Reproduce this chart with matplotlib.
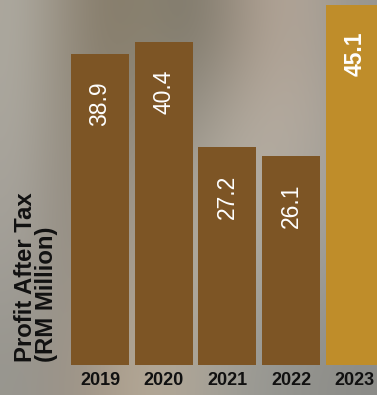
import numpy as np
import matplotlib
matplotlib.use("Agg")
import matplotlib.pyplot as plt

# Profit after tax by financial year
years = ["2019", "2020", "2021", "2022", "2023"]
profit = [38.9, 40.4, 27.2, 26.1, 45.1]
bar_colors = ["#7D5525", "#7D5525", "#7D5525", "#7D5525", "#BF8D2A"]
label_bold = [False, False, False, False, True]

plt.rcParams["font.family"] = ["Liberation Sans", "DejaVu Sans"]

fig = plt.figure(figsize=(3.77, 3.95), dpi=100)

# soft photographic backdrop
bg = fig.add_axes([0, 0, 1, 1], zorder=0)
bg_rgb = np.array([
    [[172, 168, 158], [152, 144, 130], [134, 124, 106], [138, 130, 112], [128, 122, 108], [150, 140, 126], [176, 162, 148], [172, 162, 150], [152, 150, 144]],
    [[170, 166, 157], [152, 145, 132], [140, 132, 118], [150, 142, 128], [150, 145, 135], [172, 164, 152], [182, 172, 160], [175, 166, 155], [158, 155, 148]],
    [[166, 162, 154], [150, 143, 132], [150, 142, 130], [160, 152, 140], [170, 164, 152], [180, 174, 162], [176, 170, 160], [168, 164, 156], [156, 154, 148]],
    [[160, 157, 150], [150, 144, 134], [160, 150, 136], [170, 160, 146], [175, 168, 155], [172, 168, 158], [162, 160, 152], [158, 156, 150], [150, 150, 145]],
    [[152, 150, 143], [155, 147, 136], [168, 156, 140], [180, 168, 150], [172, 164, 150], [160, 158, 150], [150, 150, 145], [145, 145, 140], [140, 140, 136]],
], dtype=float) / 255.0
bg.imshow(bg_rgb, aspect="auto", interpolation="bicubic", extent=[0, 1, 0, 1])
bg.set_xlim(0, 1)
bg.set_ylim(0, 1)
bg.axis("off")

ax = fig.add_axes([0, 0, 1, 1], zorder=1)
ax.patch.set_alpha(0)
ax.axis("off")
x = np.arange(len(years))
ax.set_xlim(-1.57, 4.348)
ax.set_ylim(-3.82, 45.68)

ax.bar(x, profit, width=0.91, color=bar_colors)

for xi, v, bold in zip(x, profit, label_bold):
    ax.text(xi, v - 3.4, f"{v:.1f}", rotation=90, ha="center", va="top",
            color="white", fontsize=16.5,
            fontweight="bold" if bold else "normal")

for xi, yr in zip(x, years):
    ax.text(xi, -2.05, yr, ha="center", va="center", fontsize=13,
            fontweight="bold", color="#111111")

fig.text(36 / 377, 1 - 362 / 395, "Profit After Tax\n(RM Million)",
         rotation=90, ha="center", va="bottom", multialignment="left",
         fontsize=17.2, fontweight="bold", color="#111111", linespacing=0.92)

fig.savefig("out.png", dpi=100)
